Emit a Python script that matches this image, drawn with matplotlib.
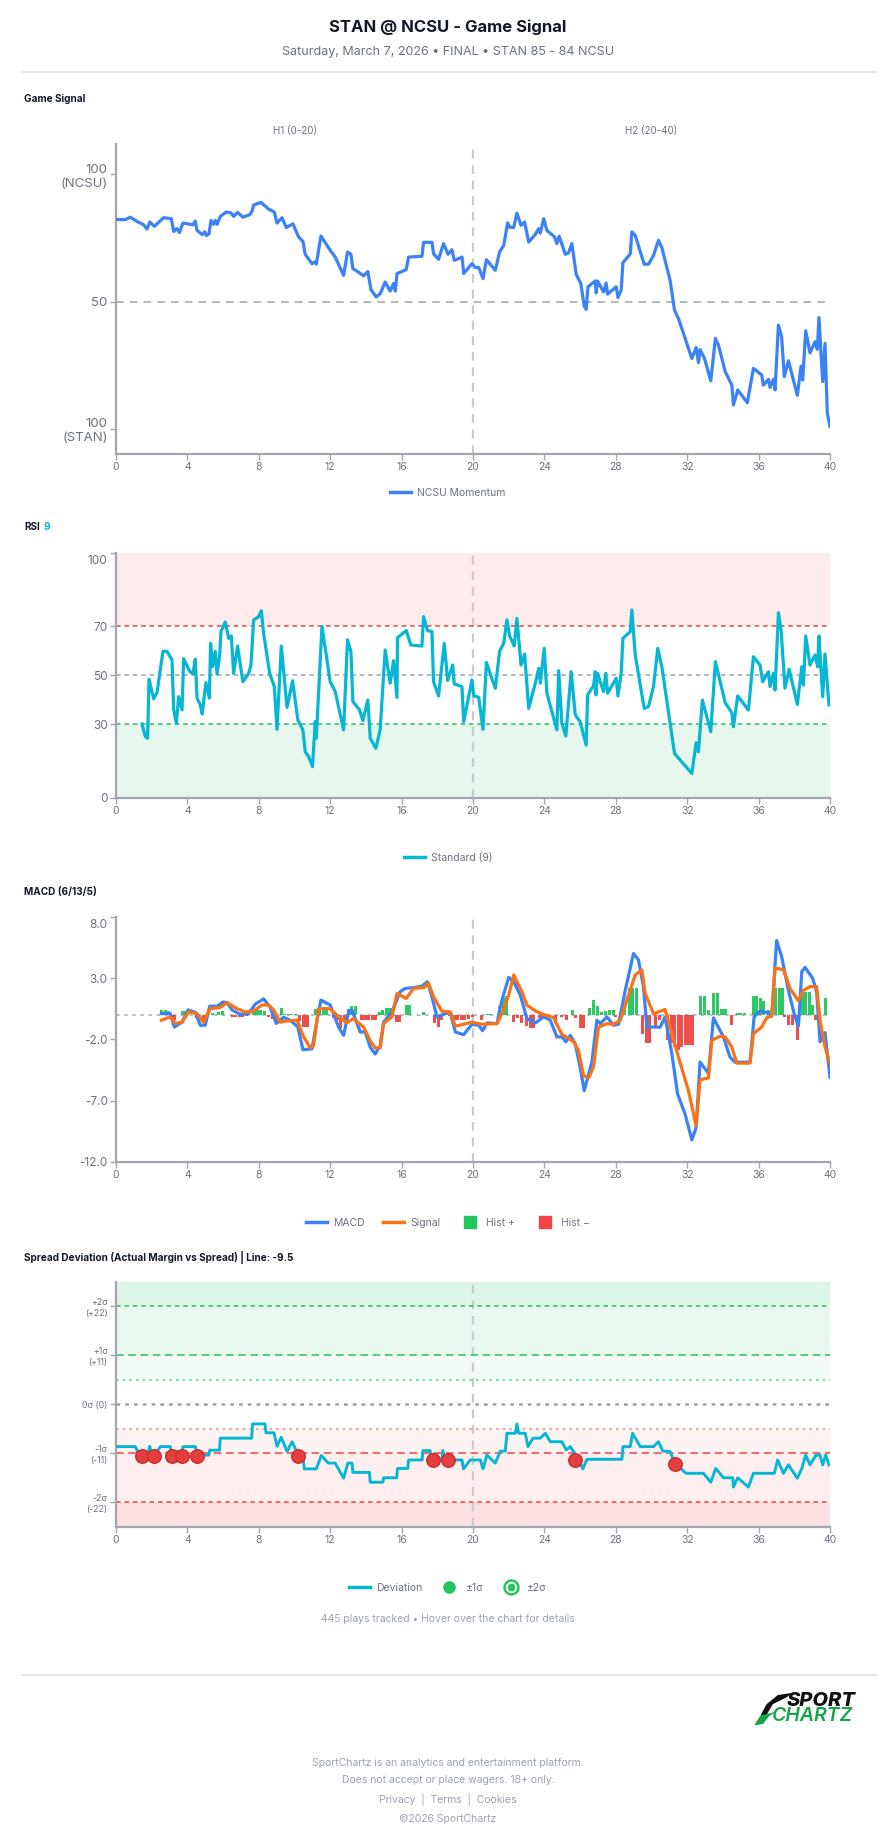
import matplotlib
matplotlib.use("Agg")
import matplotlib.pyplot as plt
from matplotlib.lines import Line2D
from matplotlib.patches import Polygon
from matplotlib.transforms import ScaledTranslation

plt.rcParams['font.family'] = ['Inter', 'DejaVu Sans']

BLUE = '#3b82f6'
CYAN = '#06b6d4'
ORANGE = '#f97316'
GREEN = '#22c55e'
RED = '#ef4444'
GRAY_TXT = '#6b7280'
AXIS_GRAY = '#a3a6b0'

# ---------------- data ----------------
x_ticks = [0, 4, 8, 12, 16, 20, 24, 28, 32, 36, 40]

# game signal (NCSU momentum, 100 = NCSU, 0 = STAN)
gs_t = [0, 0.52, 0.8, 1.18, 1.55, 1.74, 1.89, 2.15, 2.67, 3.1, 3.23, 3.42, 3.55, 3.75, 4.31, 4.44, 4.54,
        4.83, 4.97, 5.06, 5.21, 5.32, 5.47, 5.56, 5.66, 5.84, 6.18, 6.44, 6.59, 6.81, 7.11, 7.49, 7.62,
        7.71, 8.12, 8.55, 8.87, 9.02, 9.3, 9.54, 9.91, 10.23, 10.47, 10.6, 10.98, 11.16, 11.22, 11.48,
        12.0, 12.28, 12.75, 12.97, 13.16, 13.27, 13.64, 13.87, 14.11, 14.28, 14.58, 14.8, 15.08, 15.36,
        15.55, 15.65, 15.74, 16.26, 16.39, 17.14, 17.23, 17.7, 17.79, 18.07, 18.35, 18.6, 18.82, 18.95,
        19.39, 19.48, 19.94, 20.13, 20.32, 20.56, 20.75, 21.25, 21.49, 21.72, 21.94, 22.05, 22.28, 22.46,
        22.69, 22.89, 23.12, 23.49, 23.68, 23.77, 23.96, 24.14, 24.57, 24.7, 24.83, 25.17, 25.35, 25.54,
        25.78, 26.04, 26.23, 26.34, 26.44, 26.85, 26.9, 26.98, 27.31, 27.46, 27.54, 28.02, 28.12, 28.3,
        28.4, 28.58, 28.81, 28.9, 29.09, 29.59, 29.83, 30.11, 30.39, 30.58, 31.04, 31.29, 31.51, 32.26,
        32.5, 32.63, 32.72, 32.97, 33.32, 33.58, 33.75, 34.13, 34.5, 34.59, 34.83, 35.37, 35.71, 36.17,
        36.27, 36.55, 36.64, 36.83, 36.92, 37.11, 37.29, 37.44, 37.67, 38.17, 38.38, 38.47, 38.64, 38.88,
        39.16, 39.29, 39.38, 39.59, 39.72, 39.85, 40.0]
gs_v = [82.3, 82.2, 83.2, 81.5, 80.2, 78.5, 81.3, 79.6, 83.0, 82.6, 77.6, 78.7, 77.1, 80.9, 80.2, 81.7, 78.0,
        76.3, 77.5, 76.0, 76.7, 81.9, 80.4, 81.9, 80.4, 83.5, 85.2, 84.9, 83.5, 85.1, 83.2, 84.2, 85.5,
        88.0, 89.0, 86.4, 85.2, 80.9, 83.0, 79.1, 80.6, 75.4, 73.7, 68.6, 64.9, 65.6, 64.7, 75.8,
        70.2, 67.5, 60.3, 69.5, 68.6, 63.0, 61.3, 60.1, 61.8, 54.7, 51.8, 53.1, 57.7, 54.1,
        57.1, 54.1, 61.0, 62.6, 67.5, 67.8, 73.3, 73.3, 68.8, 66.6, 72.8, 68.6, 70.4, 66.2,
        67.5, 61.0, 64.9, 63.4, 63.4, 59.0, 66.5, 62.3, 69.5, 72.1, 81.0, 79.3, 79.1, 84.8,
        80.0, 81.3, 73.4, 76.4, 78.7, 77.0, 82.6, 78.0, 75.4, 72.8, 75.7, 68.6, 69.1, 72.8,
        60.7, 57.1, 48.2, 46.9, 55.8, 58.1, 53.4, 58.1, 53.8, 57.3, 52.9, 55.8, 51.6, 54.5,
        65.3, 66.8, 68.8, 77.4, 76.0, 64.7, 64.7, 68.1, 74.1, 71.2, 58.4, 46.6, 43.3, 27.6,
        31.9, 26.0, 31.1, 27.6, 18.8, 35.5, 32.9, 22.4, 17.1, 9.3, 15.2, 10.2, 23.7, 21.1,
        17.1, 19.4, 16.2, 19.4, 15.2, 40.7, 36.1, 20.4, 26.7, 13.1, 24.6, 19.1, 38.5, 29.8,
        34.2, 31.2, 43.7, 18.5, 33.5, 6.0, 0.8]
gs_ticks = [0, 50, 100]
gs_ticklabels = ['100\n(STAN)', '50', '100\n(NCSU)']

# RSI 9
rsi_t = [1.46, 1.64, 1.77, 1.85, 2.11, 2.3, 2.63, 2.86, 3.14, 3.23, 3.38, 3.51, 3.7, 3.79, 4.13, 4.31, 4.44,
         4.54, 4.72, 4.83, 4.95, 5.04, 5.23, 5.3, 5.41, 5.56, 5.66, 5.81, 5.88, 6.12, 6.31, 6.46, 6.59,
         6.81, 7.11, 7.43, 7.56, 7.71, 7.99, 8.14, 8.27, 8.61, 8.87, 9.02, 9.26, 9.58, 9.89, 10.19, 10.47,
         10.6, 10.79, 11.01, 11.16, 11.22, 11.54, 12.0, 12.28, 12.75, 12.97, 13.16, 13.27, 13.64, 13.83,
         14.11, 14.24, 14.56, 14.8, 15.08, 15.36, 15.55, 15.74, 15.77, 16.26, 16.52, 17.14, 17.23, 17.45,
         17.7, 17.79, 18.07, 18.39, 18.58, 18.86, 18.95, 19.38, 19.48, 19.94, 20.04, 20.32, 20.56, 20.75,
         21.25, 21.49, 21.72, 21.9, 22.05, 22.31, 22.46, 22.69, 22.89, 23.12, 23.49, 23.68, 23.77, 23.99,
         24.14, 24.7, 24.8, 24.98, 25.2, 25.5, 25.73, 26.0, 26.34, 26.42, 26.75, 26.85, 26.88, 26.98,
         27.31, 27.44, 27.54, 28.02, 28.12, 28.3, 28.4, 28.81, 28.9, 29.09, 29.59, 29.83, 30.11, 30.35,
         30.58, 31.29, 31.57, 32.26, 32.5, 32.63, 32.85, 33.32, 33.58, 34.13, 34.5, 34.59, 34.83, 35.43,
         35.71, 36.08, 36.23, 36.55, 36.64, 36.83, 36.92, 37.11, 37.26, 37.48, 37.71, 38.17, 38.42, 38.51,
         38.64, 38.88, 39.16, 39.31, 39.38, 39.59, 39.72, 39.94]
rsi_v = [30.1, 25.0, 24.3, 48.4, 40.4, 43.0, 59.8, 59.8, 56.3, 35.9, 30.4, 41.3, 35.9, 56.8, 51.6, 50.6, 56.6,
         40.7, 37.9, 34.2, 42.0, 47.0, 40.7, 63.1, 53.6, 59.8, 50.5, 58.4, 67.9, 71.8, 65.1, 66.1, 50.8,
         62.0, 47.4, 50.8, 54.2, 72.6, 74.0, 76.4, 67.2, 50.8, 45.4, 27.9, 62.0, 36.9, 47.8, 31.7, 27.7,
         18.8, 16.8, 12.7, 31.1, 24.3, 70.0, 47.4, 43.4, 27.7, 64.5, 59.8, 39.3, 35.9, 31.5,
         39.9, 24.3, 20.2, 27.9, 60.4, 46.8, 56.0, 41.0, 65.4, 68.3, 62.4, 62.0, 74.0, 68.3,
         67.9, 47.4, 41.6, 63.1, 47.9, 54.2, 46.5, 45.4, 31.1, 48.1, 41.6, 41.0, 27.9, 55.3,
         44.7, 59.8, 63.1, 72.7, 66.1, 62.0, 73.3, 54.2, 58.7, 36.5, 46.8, 52.9, 46.8, 61.0,
         42.7, 27.7, 51.9, 30.4, 25.2, 51.5, 33.8, 31.1, 21.5, 42.0, 45.7, 51.5, 42.0, 50.8,
         43.4, 50.8, 42.7, 48.8, 41.6, 50.8, 65.1, 67.9, 76.7, 58.3, 36.5, 37.2, 45.4, 61.0,
         53.5, 18.1, 15.7, 9.9, 22.5, 18.8, 39.9, 27.0, 55.6, 38.8, 34.7, 29.0, 41.6, 35.8,
         57.6, 54.2, 47.4, 51.5, 45.4, 50.8, 44.0, 75.6, 68.5, 44.7, 52.5, 38.1, 53.5, 46.0,
         66.1, 54.2, 58.3, 53.5, 66.1, 41.3, 58.7, 37.9]
rsi_ticks = [0, 30, 50, 70, 100]

# MACD (6/13/5)
macd_t = [2.54, 3.04, 3.27, 3.7, 4.03, 4.44, 4.72, 5.0, 5.25, 5.66, 5.99, 6.22, 6.5, 6.93, 7.43, 7.8, 8.27,
          8.64, 8.98, 9.39, 9.76, 10.19, 10.47, 10.98, 11.26, 11.48, 12.0, 12.47, 12.75, 13.03, 13.22,
          13.68, 13.96, 14.24, 14.52, 14.8, 14.99, 15.46, 15.92, 16.2, 16.76, 17.14, 17.45, 17.7, 17.98,
          18.44, 18.73, 19.01, 19.48, 19.94, 20.32, 20.54, 20.78, 21.34, 21.62, 22.0, 22.28, 22.65, 23.02,
          23.49, 23.96, 24.33, 24.7, 24.98, 25.2, 25.45, 25.73, 26.0, 26.23, 26.66, 26.94, 27.13, 27.5,
          27.87, 28.15, 28.53, 28.99, 29.27, 29.55, 29.74, 30.49, 30.76, 31.14, 31.46, 31.88, 32.26, 32.5,
          32.72, 33.19, 33.47, 34.03, 34.4, 34.68, 35.52, 35.75, 36.08, 36.55, 36.74, 37.01, 37.29, 37.67,
          37.99, 38.23, 38.42, 38.6, 39.03, 39.25, 39.44, 39.72, 40.0]
macd_v = [0.1, 0.1, -1.0, -0.6, 0.4, 0.2, -0.85, -0.85, 0.7, 0.7, 1.04, 1.0, 0.4, 0.05, 0.1, 0.87, 1.3,
          0.6, -0.7, -0.2, -0.44, -1.0, -2.85, -2.77, -0.44, 1.2, 0.8, -1.0, -1.67, 0.24, 0.4,
          -1.4, -1.4, -2.63, -3.2, -2.5, -0.6, 0.24, 1.88, 2.15, 2.23, 2.34, 2.7, 1.47, -0.17,
          0.1, 0.16, -1.4, -1.62, -0.77, -0.85, -1.3, -0.66, -0.72, 1.2, 3.05, 2.7, 1.6, -0.3,
          -0.66, -0.17, -0.44, -1.8, -1.8, -2.2, -1.67, -2.36, -4.27, -6.18, -3.86, -0.44, -0.72, -0.17,
          -0.85, -0.77, 2.0, 5.0, 4.48, 2.3, -1.0, -1.0, -0.17, -3.17, -6.45, -8.09, -10.2, -9.2,
          -3.86, -4.76, -0.25, -1.8, -3.45, -3.86, -3.86, -0.17, 0.32, 0.16, -0.03, 6.06, 4.75, 2.0,
          0.1, -0.93, 3.52, 3.87, 2.97, 1.88, -2.2, -1.45, -5.1]
signal_t = [2.54, 3.04, 3.32, 3.7, 4.07, 4.54, 4.9, 5.28, 5.84, 6.22, 6.78, 7.24, 7.71, 8.18, 8.55, 8.83,
            9.2, 9.58, 10.14, 10.51, 10.88, 11.07, 11.35, 12.0, 12.37, 12.93, 13.3, 13.87, 14.24, 14.52,
            14.8, 14.99, 15.46, 15.74, 16.26, 16.67, 17.27, 17.5, 17.79, 18.25, 18.73, 19.01, 19.48,
            19.94, 20.5, 21.34, 21.62, 22.0, 22.28, 22.74, 23.02, 23.49, 23.96, 24.51, 24.98, 25.63,
            25.91, 26.19, 26.47, 26.75, 27.03, 27.5, 27.87, 28.25, 28.62, 29.09, 29.46, 29.65, 30.11,
            30.39, 30.76, 31.14, 31.51, 32.07, 32.5, 32.72, 33.19, 33.38, 33.84, 34.13, 34.5, 34.78,
            35.52, 35.71, 36.17, 36.46, 36.74, 36.92, 37.39, 37.76, 38.23, 38.51, 38.88, 39.25, 39.44,
            39.72, 40.0]
signal_v = [-0.44, -0.17, -0.7, -0.6, 0.24, 0.1, -0.6, 0.5, 0.6, 1.0, 0.5, 0.24, 0.3, 0.8, 0.8, 0.4,
            -0.6, -0.5, -0.44, -1.8, -2.68, -2.5, 0.5, 0.5, -0.03, -0.66, -0.3, -1.0, -2.1, -2.7,
            -2.7, -0.7, -0.17, 1.74, 1.33, 2.15, 2.23, 2.6, 1.47, 0.3, 0.24, -0.93, -0.77,
            -0.6, -0.77, -0.72, 0.1, 1.6, 3.25, 1.88, 0.79, 0.32, 0.02, -0.22, -1.59, -2.2,
            -2.9, -4.95, -5.14, -4.27, -1.0, -0.72, -0.77, -0.44, 1.2, 3.25, 3.66, 1.74, 0.1,
            0.24, 0.43, -1.54, -3.45, -6.18, -9.05, -5.3, -5.14, -2.08, -1.75, -1.8, -2.63, -3.94,
            -3.94, -1.54, -1.0, -0.22, -0.11, 3.8, 3.7, 2.15, 1.14, 2.0, 2.3, 2.3, -0.44,
            -2.63, -3.94]
hist_t = [2.55, 2.75, 2.95, 3.1, 3.25, 3.7, 3.9, 4.5, 4.7, 4.9, 5.2, 5.4, 5.75, 5.95, 6.5, 6.7, 6.9, 7.1,
          7.3, 7.7, 7.9, 8.1, 8.3, 8.55, 8.75, 8.95, 9.25, 9.45, 9.65, 9.85, 10.05, 10.3, 10.5, 10.7, 11.2,
          11.4, 11.6, 11.8, 12.2, 12.4, 12.6, 12.8, 13.0, 13.2, 13.4, 13.75, 13.95, 14.15, 14.35, 14.55,
          14.75, 14.95, 15.15, 15.35, 15.7, 15.9, 16.25, 16.45, 17.25, 17.85, 18.05, 18.25, 18.7, 18.95,
          19.15, 19.35, 19.55, 19.75, 19.95, 20.5, 20.8, 21.0, 21.5, 21.7, 21.9, 22.25, 22.5, 22.7, 23.0,
          23.2, 23.4, 23.7, 23.9, 24.1, 24.3, 24.6, 24.95, 25.25, 25.55, 25.75, 26.0, 26.2, 26.55, 26.75,
          27.0, 27.2, 27.45, 27.65, 27.85, 28.0, 28.3, 28.5, 28.75, 28.95, 29.15, 29.5, 29.7, 29.9, 30.25,
          30.45, 30.9, 31.1, 31.3, 31.5, 31.7, 31.9, 32.1, 32.3, 32.75, 32.95, 33.2, 33.5, 33.7, 33.95,
          34.15, 34.5, 34.8, 35.0, 35.2, 35.7, 35.9, 36.1, 36.3, 36.55, 36.95, 37.15, 37.35, 37.45, 37.7,
          37.9, 38.2, 38.45, 38.65, 38.85, 39.0, 39.2, 39.75]
hist_v = [0.4, 0.4, 0.35, -0.3, -0.4, 0.3, 0.35, -0.3, -0.45, -0.4, 0.1, 0.15, 0.2, 0.3, -0.2, -0.15, -0.2,
          -0.15, -0.1, 0.2, 0.4, 0.4, 0.35, -0.2, -0.35, -0.7, 0.55, 0.1, 0.1, 0.1, 0.05, -0.5, -1.0, -1.0,
          0.5, 0.55, 0.55, 0.5, -0.3, -0.4, -1.1, -0.4, 0.5, 0.7, 0.7, -0.4, -0.45, -0.45, -0.45, -0.4,
          0.2, 0.4, 0.55, 0.55, -0.55, -0.55, 0.8, 0.8, 0.2, -0.7, -1.0, -0.4, -0.1, -0.4, -0.4, -0.45,
          -0.4, -0.35, -0.15, -0.4, 0.1, 0.1, 0.7, 1.4, 1.5, -0.6, -0.3, -0.7, -0.9, -1.1, -1.1, -0.3,
          -0.2, -0.2, -0.2, -0.7, -0.15, -0.4, 0.4, -0.3, -1.1, -1.1, 0.55, 1.2, 0.7, 0.27, 0.3, 0.4,
          0.4, -0.14, 0.27, 0.7, 2.2, 2.2, 2.2, -1.6, -2.3, -2.3, -1.0, -0.4, -2.05, -2.3, -2.6, -2.9,
          -2.6, -2.5, -2.5, -2.5, 1.56, 1.56, 0.4, 1.78, 1.78, 0.46, 0.46, -0.87, 0.14, 0.14, 0.14,
          1.5, 1.5, 1.4, 1.1, 0.4, 2.2, 2.2, 2.2, -0.2, -0.8, -0.8, -2.05, 1.9, 1.9, 1.9, 0.8, -0.4, 1.37]
macd_ticks = [-12, -7, -2, 3, 8]

# spread deviation (actual margin vs spread, line -9.5)
dev_t = [0, 1.08, 1.21, 1.83, 1.89, 1.96, 2.3, 2.48, 3.04, 3.1, 3.7, 3.75, 4.45, 4.5, 4.55, 4.6, 5.2,
         5.25, 5.8, 5.84, 7.6, 7.65, 8.35, 8.4, 8.85, 9.02, 9.26, 9.58, 9.86, 10.17, 10.45, 10.55, 11.22,
         11.5, 11.9, 12.28, 12.75, 12.99, 13.22, 13.27, 14.2, 14.24, 14.95, 14.99, 15.73, 15.77, 16.35,
         16.39, 17.15, 17.19, 17.6, 17.66, 18.25, 18.31, 18.44, 19.38, 19.47, 19.84, 20.41, 20.56, 20.78,
         21.25, 21.53, 21.81, 21.9, 22.37, 22.46, 22.56, 22.93, 23.08, 23.36, 23.77, 24.05, 24.33, 24.98,
         25.22, 25.45, 25.73, 26.16, 26.38, 28.34, 28.4, 28.81, 28.94, 29.37, 30.11, 30.39, 30.63, 31.04,
         31.29, 31.94, 32.91, 33.32, 33.6, 34.03, 34.55, 34.59, 34.83, 35.43, 35.71, 36.88, 37.07, 37.39,
         37.67, 38.17, 38.42, 38.64, 38.88, 39.22, 39.44, 39.59, 39.76, 39.94]
dev_v = [-9.5, -9.5, -10.6, -10.6, -9.4, -10.6, -10.6, -9.5, -9.5, -10.6, -10.6, -9.5, -9.5, -10.6,
         -10.6, -11.4, -11.4, -10.3, -10.3, -7.6, -7.6, -4.4, -4.4, -6.4, -6.4, -9.4, -7.4, -10.6, -8.4,
         -11.0, -11.0, -14.5, -14.5, -11.5, -13.2, -13.2, -16.6, -13.2, -13.2, -15.3, -15.3, -17.5, -17.5,
         -16.5, -16.5, -14.4, -14.4, -12.5, -12.5, -10.4, -10.4, -12.5, -12.5, -10.4, -12.5, -12.5, -14.5,
         -12.5, -12.5, -14.5, -11.4, -13.2, -10.5, -10.5, -6.5, -6.5, -4.4, -6.5, -6.5, -9.5, -7.6, -7.6,
         -6.5, -8.4, -8.4, -10.25, -9.5, -11.2, -14.5, -12.35, -12.35, -9.5, -9.5, -6.5, -9.5, -9.5, -8.4,
         -10.5, -10.6, -13.2, -15.5, -15.5, -17.5, -14.4, -16.5, -16.5, -18.6, -16.5, -18.6, -15.5, -15.5,
         -12.5, -15.5, -13.6, -16.6, -14.4, -11.4, -13.6, -11.4, -11.4, -13.6, -11.4, -13.6]
alert_t = [1.46, 2.15, 3.14, 3.7, 4.54, 10.17, 17.75, 18.59, 25.73, 31.29]
alert_v = [-11.5, -11.5, -11.5, -11.5, -11.5, -11.5, -12.5, -12.5, -12.5, -13.5]
sd_ticks = [-22, -11, 0, 11, 22]
sd_ticklabels = ['-2σ\n(-22)', '-1σ\n(-11)', '0σ (0)', '+1σ\n(+11)', '+2σ\n(+22)']

# ---------------- figure ----------------
W, H = 896, 1845
fig = plt.figure(figsize=(W / 100, H / 100), dpi=100)
fig.patch.set_facecolor('white')


def box(top, bottom, left=116, right=830):
    return [left / W, 1 - bottom / H, (right - left) / W, (bottom - top) / H]


def style_axis(ax, ylabelsize=8.5):
    for s in ['top', 'right']:
        ax.spines[s].set_visible(False)
    for s in ['left', 'bottom']:
        ax.spines[s].set_color(AXIS_GRAY)
        ax.spines[s].set_linewidth(1.6)
    ax.set_xlim(0, 40)
    ax.set_xticks(x_ticks)
    ax.tick_params(axis='x', colors=AXIS_GRAY, labelcolor=GRAY_TXT, labelsize=7.5, length=4, width=1, pad=2)
    ax.tick_params(axis='y', colors=AXIS_GRAY, labelcolor=GRAY_TXT, labelsize=ylabelsize, length=4, width=1, pad=2)
    ax.axvline(20, color='#c9cbd3', lw=1.6, dashes=(4, 3), zorder=1)
    ax.set_facecolor('none')


def nudge_top_label(ax, px=7):
    lab = ax.get_yticklabels()[-1]
    lab.set_transform(lab.get_transform() + ScaledTranslation(0, -px / 100, fig.dpi_scale_trans))


def hline(y0):
    fig.add_artist(Line2D([22 / W, 876 / W], [1 - y0 / H, 1 - y0 / H], color='#dcdce2', lw=1.1,
                          transform=fig.transFigure))


def section_title(y0, txt):
    fig.text(24 / W, 1 - y0 / H, txt, fontsize=7.2, fontweight='bold', color='#111827', va='center')


def legend(y0, handles, labels, xc=448, spacing=1.6):
    fig.legend(handles, labels, loc='center', bbox_to_anchor=(xc / W, 1 - y0 / H), ncol=len(handles),
               frameon=False, fontsize=7.5, labelcolor=GRAY_TXT, handlelength=2.0, handletextpad=0.6,
               columnspacing=spacing)


# header
fig.text(0.5, 1 - 27.5 / H, 'STAN @ NCSU - Game Signal', ha='center', va='center', fontsize=12,
         fontweight='bold', color='#111827')
fig.text(0.5, 1 - 52.5 / H, 'Saturday, March 7, 2026 • FINAL • STAN 85 - 84 NCSU', ha='center',
         va='center', fontsize=9, color=GRAY_TXT)
hline(72)

# ---- Game Signal ----
section_title(99, 'Game Signal')
ax1 = fig.add_axes(box(144, 454))
style_axis(ax1, ylabelsize=9.5)
ax1.set_ylim(-10, 112)
ax1.set_yticks(gs_ticks)
ax1.set_yticklabels(gs_ticklabels)
ax1.axhline(50, color='#9ca3af', lw=1.1, dashes=(5, 4), zorder=1)
ax1.plot(gs_t, gs_v, color=BLUE, lw=2.3, solid_joinstyle='round', zorder=3)
ax1.text(10, 1.042, 'H1 (0-20)', transform=ax1.get_xaxis_transform(), ha='center', va='center',
         fontsize=7, color=GRAY_TXT)
ax1.text(30, 1.042, 'H2 (20-40)', transform=ax1.get_xaxis_transform(), ha='center', va='center',
         fontsize=7, color=GRAY_TXT)
legend(493, [Line2D([], [], color=BLUE, lw=2.5)], ['NCSU Momentum'])

# ---- RSI ----
fig.text(24 / W, 1 - 527 / H, 'RSI', fontsize=7.2, fontweight='bold', color='#111827', va='center')
fig.text(43 / W, 1 - 527 / H, '9', fontsize=7.2, fontweight='bold', color=CYAN, va='center')
ax2 = fig.add_axes(box(553, 797.7))
style_axis(ax2)
ax2.set_ylim(0, 100)
ax2.set_yticks(rsi_ticks)
nudge_top_label(ax2)
ax2.axhspan(70, 100, color='#fdeceb', lw=0, zorder=0)
ax2.axhspan(0, 30, color='#e7f7ed', lw=0, zorder=0)
ax2.axhline(70, color=RED, lw=1.1, dashes=(3, 2.5), zorder=1)
ax2.axhline(30, color=GREEN, lw=1.1, dashes=(3, 2.5), zorder=1)
ax2.axhline(50, color='#9ca3af', lw=1.1, dashes=(3, 2.5), zorder=1)
ax2.plot(rsi_t, rsi_v, color=CYAN, lw=2.3, solid_joinstyle='round', zorder=3)
legend(858, [Line2D([], [], color=CYAN, lw=2.5)], ['Standard (9)'])

# ---- MACD ----
section_title(892, 'MACD (6/13/5)')
ax3 = fig.add_axes(box(916.7, 1162))
style_axis(ax3)
ax3.set_ylim(-12, 8)
ax3.set_yticks(macd_ticks)
ax3.set_yticklabels([f'{v:.1f}' for v in macd_ticks])
nudge_top_label(ax3)
ax3.axhline(0, color='#b8bac2', lw=1.3, dashes=(2, 2.5), zorder=1)
bar_colors = [GREEN if v >= 0 else RED for v in hist_v]
ax3.bar(hist_t, hist_v, width=0.17, color=bar_colors, lw=0, alpha=0.95, zorder=2)
ax3.plot(macd_t, macd_v, color=BLUE, lw=2.3, solid_joinstyle='round', zorder=3)
ax3.plot(signal_t, signal_v, color=ORANGE, lw=2.3, solid_joinstyle='round', zorder=4)
sq = dict(marker='s', linestyle='none', markersize=9)
legend(1222.7, [Line2D([], [], color=BLUE, lw=2.5), Line2D([], [], color=ORANGE, lw=2.5),
                Line2D([], [], color=GREEN, **sq), Line2D([], [], color=RED, **sq)],
       ['MACD', 'Signal', 'Hist +', 'Hist −'], spacing=1.8)

# ---- Spread Deviation ----
section_title(1257, 'Spread Deviation (Actual Margin vs Spread) | Line: -9.5')
ax4 = fig.add_axes(box(1282, 1526.7))
style_axis(ax4, ylabelsize=6.3)
ax4.set_ylim(-27.5, 27.5)
ax4.set_yticks(sd_ticks)
ax4.set_yticklabels(sd_ticklabels)
ax4.axhspan(22, 27.5, color='#ddf5e7', lw=0, zorder=0)
ax4.axhspan(11, 22, color='#e8f8ef', lw=0, zorder=0)
ax4.axhspan(5.5, 11, color='#f3fbf7', lw=0, zorder=0)
ax4.axhspan(-11, -5.5, color='#fef3f3', lw=0, zorder=0)
ax4.axhspan(-22, -11, color='#fdeff0', lw=0, zorder=0)
ax4.axhspan(-27.5, -22, color='#fde1e2', lw=0, zorder=0)
ax4.axhline(22, color=GREEN, lw=1.1, dashes=(3, 2.5), zorder=1)
ax4.axhline(11, color=GREEN, lw=1.1, dashes=(5, 3), zorder=1)
ax4.axhline(5.5, color='#6ee7a0', lw=1.5, dashes=(1.2, 2), zorder=1)
ax4.axhline(0, color='#9ca3af', lw=1.8, dashes=(1.5, 2), zorder=1)
ax4.axhline(-5.5, color='#f8a1a1', lw=1.5, dashes=(1.2, 2), zorder=1)
ax4.axhline(-11, color=RED, lw=1.1, dashes=(5, 3), zorder=1)
ax4.axhline(-22, color=RED, lw=1.1, dashes=(3, 2.5), zorder=1)
ax4.plot(dev_t, dev_v, color=CYAN, lw=2.1, solid_joinstyle='round', zorder=3)
ax4.scatter(alert_t, alert_v, s=95, color='#e53e3e', edgecolor='#c53030', linewidth=1, zorder=4)
ring = Line2D([], [], marker='o', linestyle='none', markersize=10, markerfacecolor='white',
              markeredgecolor=GREEN, markeredgewidth=1.8)
inner = Line2D([], [], marker='o', linestyle='none', markersize=4.5, color=GREEN)
legend(1587.7, [Line2D([], [], color=CYAN, lw=2.5),
                Line2D([], [], marker='o', linestyle='none', markersize=8, color=GREEN), (ring, inner)],
       ['Deviation', '±1σ', '±2σ'], spacing=1.6)
fig.text(0.5, 1 - 1619 / H, '445 plays tracked • Hover over the chart for details', ha='center',
         va='center', fontsize=7.5, color='#9ca3af')

# ---- footer ----
hline(1675)
logo = fig.add_axes([748 / W, 1 - 1727 / H, 124 / W, 38 / H])
logo.set_xlim(0, 1)
logo.set_ylim(0, 1)
logo.axis('off')
logo.add_patch(Polygon([[0.10, 0.30], [0.15, 0.60], [0.24, 0.84], [0.36, 0.90], [0.31, 0.78],
                        [0.20, 0.60], [0.15, 0.32]], closed=True, color='#111111', lw=0))
logo.add_patch(Polygon([[0.05, 0.04], [0.10, 0.30], [0.22, 0.40], [0.17, 0.28], [0.12, 0.08]],
                       closed=True, color='#16a34a', lw=0))
logo.text(0.31, 0.69, 'SPORT', fontsize=14.5, fontweight='heavy', fontstyle='italic', color='#111111',
          va='center', ha='left')
logo.text(0.19, 0.30, 'CHARTZ', fontsize=14, fontweight='semibold', fontstyle='italic', color='#16a34a',
          va='center', ha='left')

foot = '#9ca3af'
fig.text(0.5, 1 - 1763 / H, 'SportChartz is an analytics and entertainment platform.', ha='center',
         va='center', fontsize=7.5, color=foot)
fig.text(0.5, 1 - 1780 / H, 'Does not accept or place wagers. 18+ only.', ha='center', va='center',
         fontsize=7.5, color=foot)
fig.text(0.5, 1 - 1800 / H, 'Privacy  |  Terms  |  Cookies', ha='center', va='center', fontsize=7.5,
         color=foot)
fig.text(0.5, 1 - 1819 / H, '©2026 SportChartz', ha='center', va='center', fontsize=7.5, color=foot)

fig.savefig('out.png', dpi=100, facecolor='white')
